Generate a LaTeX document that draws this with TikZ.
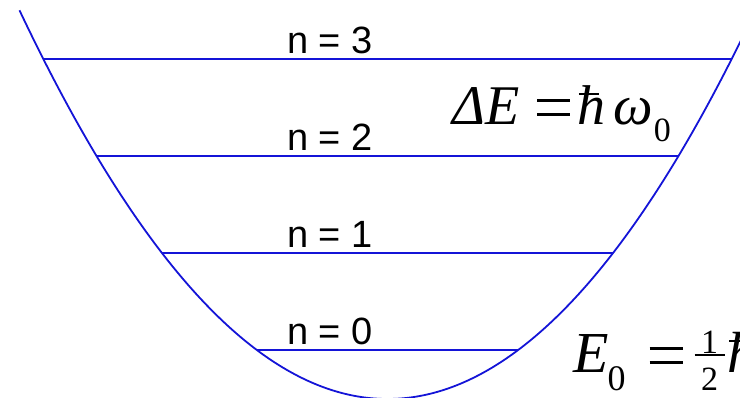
\documentclass[tikz,border=0pt]{standalone}
\usepackage{fontspec}
\setmainfont{Liberation Serif}
\setsansfont{Liberation Sans}
\definecolor{wellblue}{RGB}{20,20,215}
\newcommand\myhbar{\makebox[0pt][l]{\raisebox{0.53em}{\kern0.03em\rule{0.36em}{0.045em}}}h}
\newcommand\mysub[2][34]{\raisebox{-0.3em}{\upshape\fontsize{#1}{#1}\selectfont #2}}
\newcommand\myeq{\raisebox{8.85pt}{\vbox{\hrule width 33pt height 2.8pt\kern11.7pt\hrule width 33pt height 2.8pt}}}
\newcommand\myhalf{\raisebox{-18pt}{\fontsize{34}{34}\selectfont\upshape\vbox{\hbox to 30pt{\hss 1\hss}\kern1pt\hrule height 2.2pt\kern12pt\hbox to 30pt{\hss 2\hss}}}}
\tikzset{
  well/.style={draw=wellblue, line width=1.8pt},
  level/.style={draw=wellblue, line width=2.8pt},
  nlabel/.style={anchor=base west, inner sep=0pt, font=\sffamily\fontsize{38}{40}\selectfont},
  formula/.style={anchor=base west, inner sep=0pt, font=\fontsize{56}{60}\selectfont\itshape}
}
\begin{document}
\begin{tikzpicture}[x=1pt,y=-1pt]
\useasboundingbox (0,0) rectangle (740,398);
\clip (0,0) rectangle (740,398);
% potential well
\draw[well] plot[domain=19.5:760, samples=240, smooth] (\x, {399-(0.053572*(\x-387.5))^2});
% levels
\foreach \n/\y/\w in {3/59/344.2, 2/156/291.0, 1/253/225.5, 0/350/130.7}{
  \coordinate (l\n) at ({387.5-\w}, \y);
  \coordinate (r\n) at ({387.5+\w}, \y);
  \draw[level] (l\n) -- (r\n);
  \node[nlabel] (lab\n) at (287, {\y-5}) {n = \n};
}
\node[formula] (dE) at (452,125) {ΔE\kern18pt\myeq\kern7pt\myhbar\kern8pt ω\kern1pt\mysub{0}};
\node[formula, font=\fontsize{58}{60}\selectfont\itshape] (E0) at (573,373) {E\kern-1pt\mysub[36]{0}\kern24pt\myeq\kern12pt\myhalf\kern3pt\myhbar ω};
\end{tikzpicture}
\end{document}
